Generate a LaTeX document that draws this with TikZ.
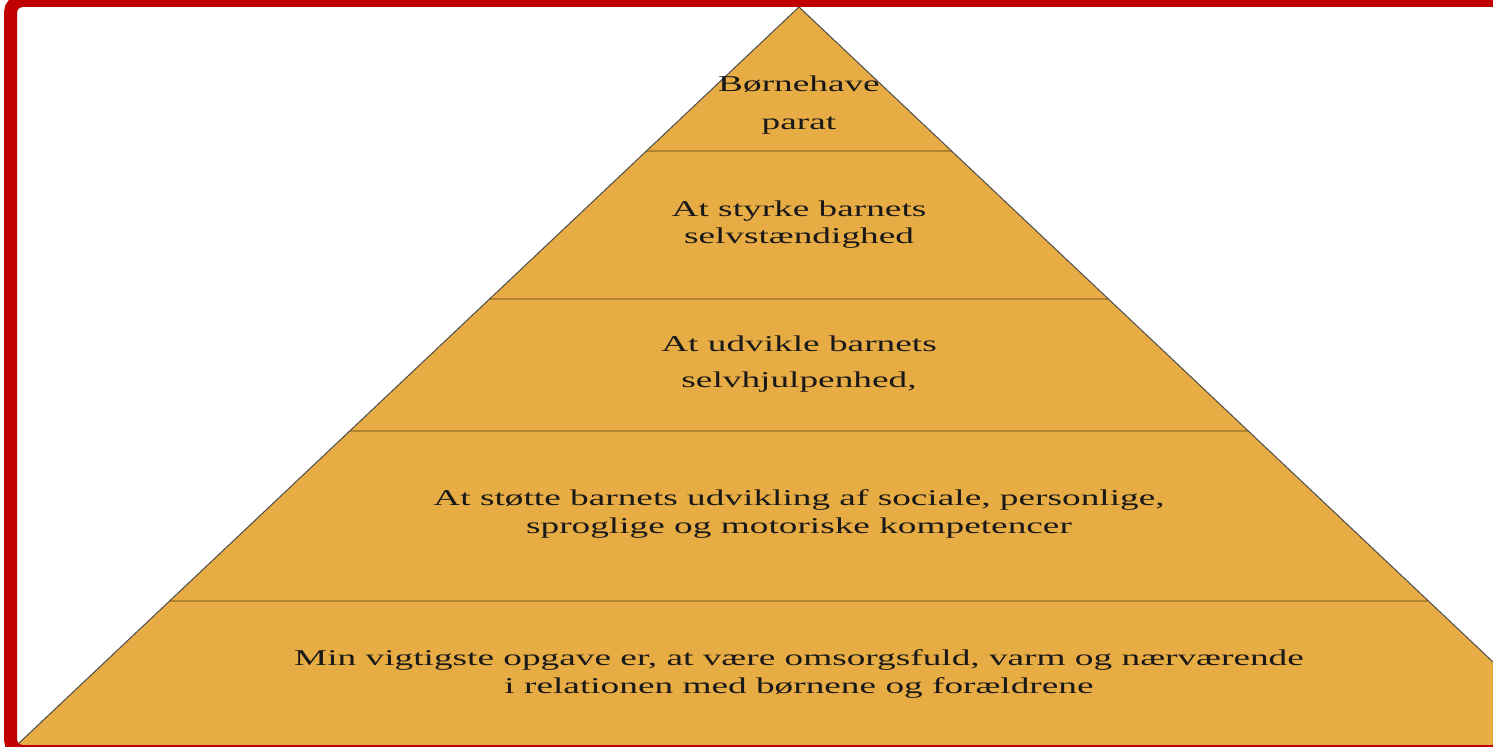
\documentclass[tikz,border=0pt]{standalone}
\usepackage{fontspec}
\setmainfont[FakeStretch=1.65]{Liberation Serif}
\usetikzlibrary{positioning,calc}
\definecolor{frame}{HTML}{C00000}
\definecolor{gold}{HTML}{E8AC44}
\definecolor{seam}{HTML}{B0832F}
\tikzset{seamline/.style={draw=seam,line width=1pt},
  lbl/.style={align=center,text=black!90,font=\fontsize{11.3}{13.6}\selectfont}}

\begin{document}
\begin{tikzpicture}[x=0.5pt,y=-0.5pt]
  \useasboundingbox (0,0) rectangle (1493,747);
  \clip (0,0) rectangle (1493,747);
  \coordinate (top) at (799,7);
  \coordinate (bl) at (17,745);
  \coordinate (br) at (1581,745);
  \fill[gold] (top) -- (bl) -- (br) -- cycle;
  % layer seams
  \foreach \y in {151,299,431,601} {
    \pgfmathsetmacro\t{(\y-7)/738}
    \draw[seamline] ($(top)!\t!(bl)$) -- ($(top)!\t!(br)$);
  }
  \draw[gray!60!black,line width=0.5pt] (bl) -- (top) -- (br);
  % labels
  \node[lbl] (parat) at (799,105) {Børnehave\\[5.5pt]parat};
  \node[lbl] (styrke) at (799,225) {At styrke barnets\\selvstændighed};
  \node[lbl] (udvikle) at (799,364) {At udvikle barnets\\[4.5pt]selvhjulpenhed,};
  \node[lbl] (stotte) at (799,514) {At støtte barnets udvikling af sociale, personlige,\\sproglige og motoriske kompetencer};
  \node[lbl] (opgave) at (799,674) {Min vigtigste opgave er, at være omsorgsfuld, varm og nærværende\\i relationen med børnene og forældrene};
  % frame
  \draw[frame,line width=6.5pt,rounded corners=6pt] (10.5,0.5) rectangle (1520,751.5);
\end{tikzpicture}
\end{document}
